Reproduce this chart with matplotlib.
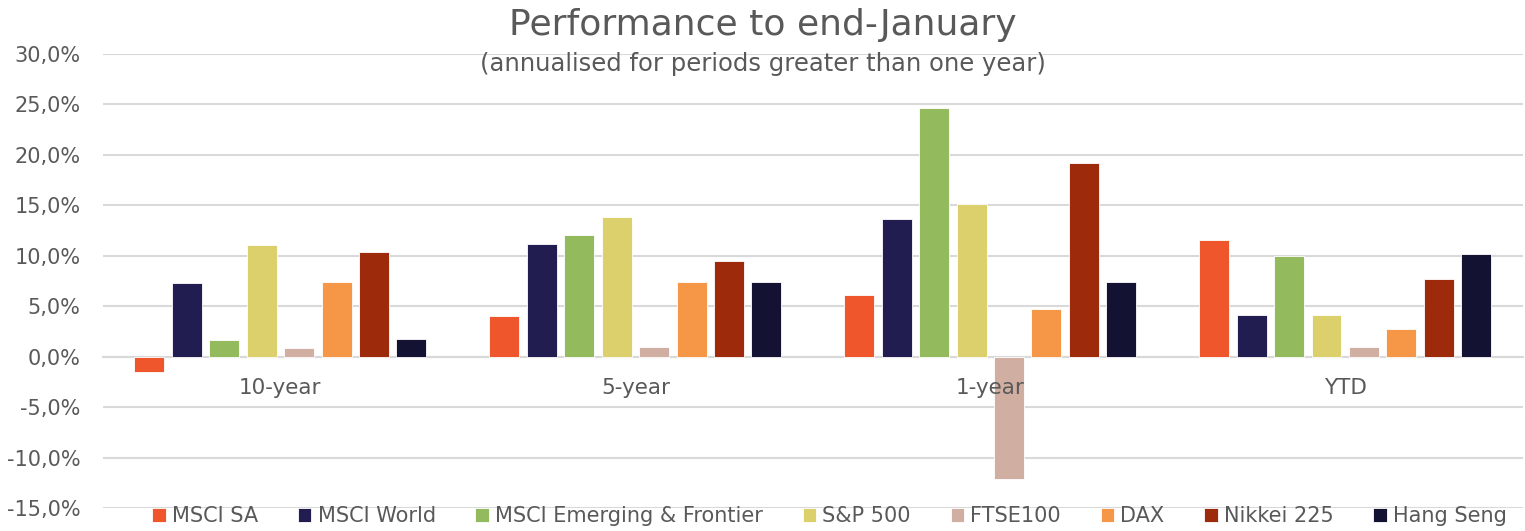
import matplotlib
matplotlib.use("Agg")
import matplotlib.pyplot as plt
import numpy as np
from matplotlib.ticker import FuncFormatter

categories = ["10-year", "5-year", "1-year", "YTD"]
series_names = ["MSCI SA", "MSCI World", "MSCI Emerging & Frontier", "S&P 500",
                "FTSE100", "DAX", "Nikkei 225", "Hang Seng"]
msci_sa = [-1.5, 4.0, 6.1, 11.6]
msci_world = [7.3, 11.2, 13.6, 4.1]
msci_em = [1.7, 12.1, 24.6, 10.0]
sp500 = [11.1, 13.8, 15.1, 4.1]
ftse100 = [0.9, 1.0, -12.1, 1.0]
dax = [7.4, 7.4, 4.7, 2.7]
nikkei = [10.4, 9.5, 19.2, 7.7]
hang_seng = [1.8, 7.4, 7.4, 10.2]
series_values = [msci_sa, msci_world, msci_em, sp500, ftse100, dax, nikkei, hang_seng]
colors = ["#F0562B", "#221D50", "#93BB5E", "#DCD06D", "#D0AEA2", "#F69748", "#9D2A0B", "#141232"]
yticks = [-15, -10, -5, 0, 5, 10, 15, 20, 25, 30]

text_color = "#595959"
plt.rcParams['font.family'] = ['DejaVu Sans']

fig = plt.figure(figsize=(15.25, 5.31), dpi=100)
ax = fig.add_axes([0.0675, 0.0433, 0.9310, 0.855])

x = np.arange(len(categories))
step = 0.1055
width = 0.0844
n = len(series_names)
for i, (name, vals, c) in enumerate(zip(series_names, series_values, colors)):
    ax.bar(x + (i - (n - 1) / 2) * step, vals, width=width, color=c, label=name,
           edgecolor="white", linewidth=0.6, zorder=3)

ax.set_xlim(-0.5, len(categories) - 0.5)
ax.set_ylim(-15, 30)
ax.set_yticks(yticks)
ax.yaxis.set_major_formatter(FuncFormatter(lambda v, p: f"{v:.1f}%".replace(".", ",")))
ax.grid(axis="y", color="#D9D9D9", linewidth=1.5, zorder=0)
ax.set_axisbelow(True)
for s in ["left", "right", "top"]:
    ax.spines[s].set_visible(False)
ax.spines["bottom"].set_position(("data", 0))
ax.spines["bottom"].set_color("#D9D9D9")
ax.spines["bottom"].set_linewidth(1.5)
ax.set_xticks(x)
ax.set_xticklabels([])
ax.tick_params(axis="x", length=0)
ax.tick_params(axis="y", length=0, pad=16, labelsize=15, labelcolor=text_color)

# category labels drawn above the bars (as in the reference)
for xi, cat in zip(x, categories):
    ax.annotate(cat, (xi, 0), xytext=(0, -15), textcoords="offset points",
                ha="center", va="top", fontsize=15.5, color=text_color, zorder=6)

fig.text(0.5, 0.952, "Performance to end-January", ha="center", va="center",
         fontsize=26, color=text_color)
fig.text(0.5, 0.879, "(annualised for periods greater than one year)", ha="center",
         va="center", fontsize=17.5, color=text_color)

leg = fig.legend(loc="center", bbox_to_anchor=(0.544, 0.028), ncol=8, frameon=False,
                 fontsize=15, handlelength=0.65, handleheight=0.65, handletextpad=0.3,
                 columnspacing=1.9, labelcolor=text_color)

fig.savefig("out.png", dpi=100)
